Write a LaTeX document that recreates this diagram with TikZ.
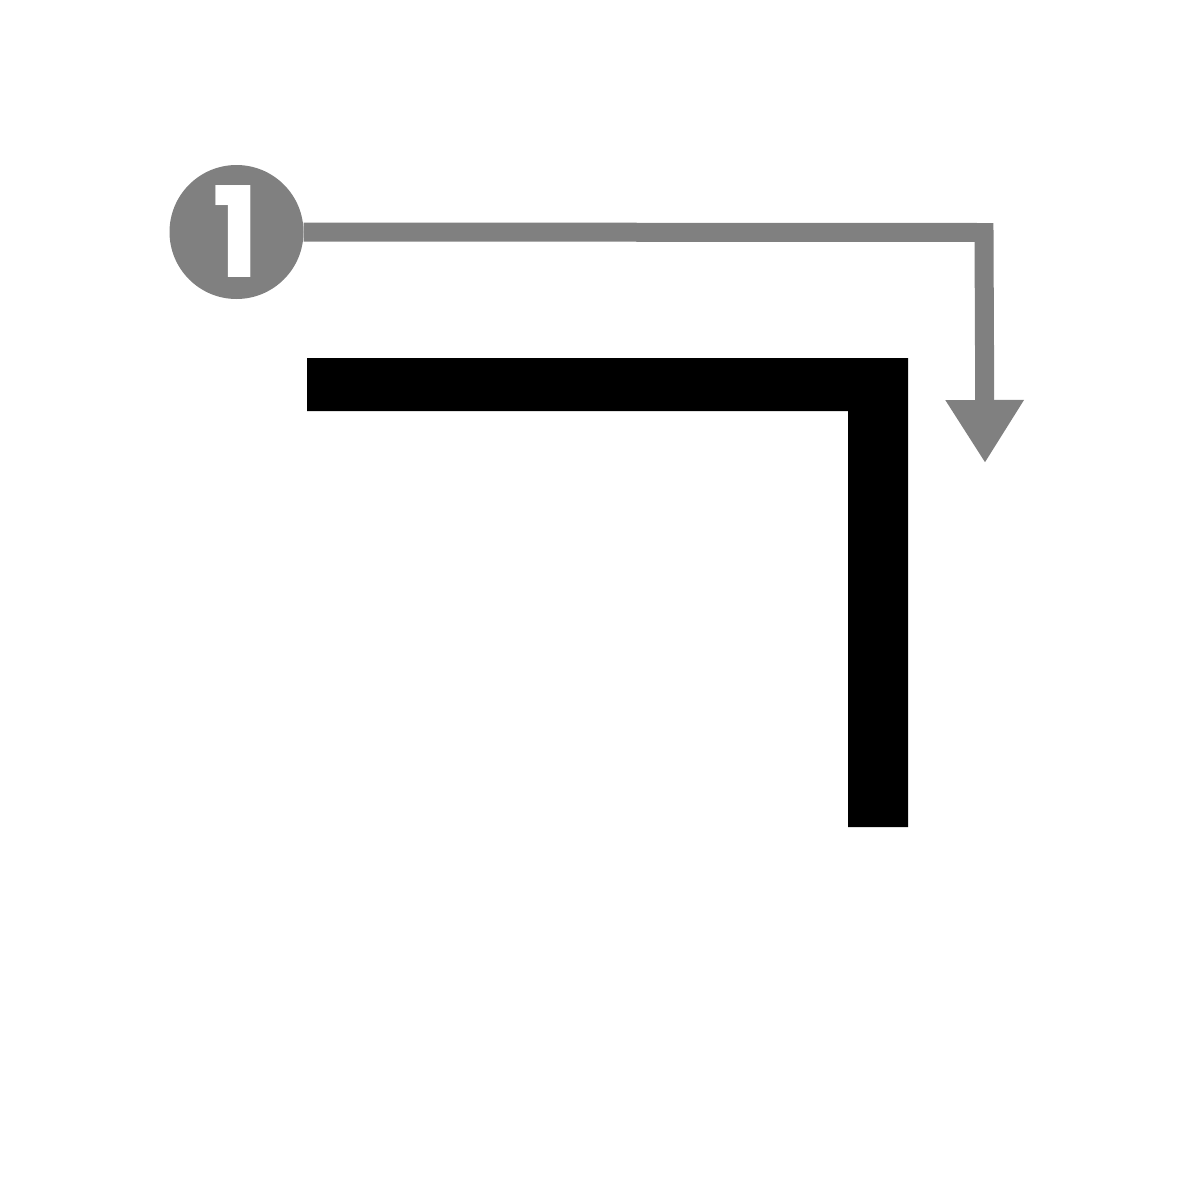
\documentclass[tikz,border=0pt]{standalone}
\usepackage{fontspec}
\newfontfamily\numfont{Poppins}
\usetikzlibrary{arrows.meta}
\definecolor{guide}{RGB}{128,128,128}
\tikzset{
  badge/.style={circle, fill=guide, minimum size=134pt, inner sep=0pt, text=white,
    font=\numfont\bfseries\fontsize{126}{126}\selectfont},
  guideline/.style={draw=guide, line width=19pt, line join=miter,
    -{Triangle[length=63pt,width=74pt]}},
  strokeshape/.style={fill=black}
}
\begin{document}
\begin{tikzpicture}[x=1pt,y=-1pt]
\useasboundingbox (0,0) rectangle (1195,1200);
\node[badge] (num) at (236.5,232) {\raisebox{-2pt}{1}};
\coordinate (bend) at (984,232.5);
\coordinate (tip) at (985,463);
\draw[guideline] (num.east) -- (bend) -- (tip);
\fill[strokeshape] (307,358) -- (908,358) -- (908,827) -- (848,827) -- (848,411) -- (307,411) -- cycle;
\end{tikzpicture}
\end{document}
